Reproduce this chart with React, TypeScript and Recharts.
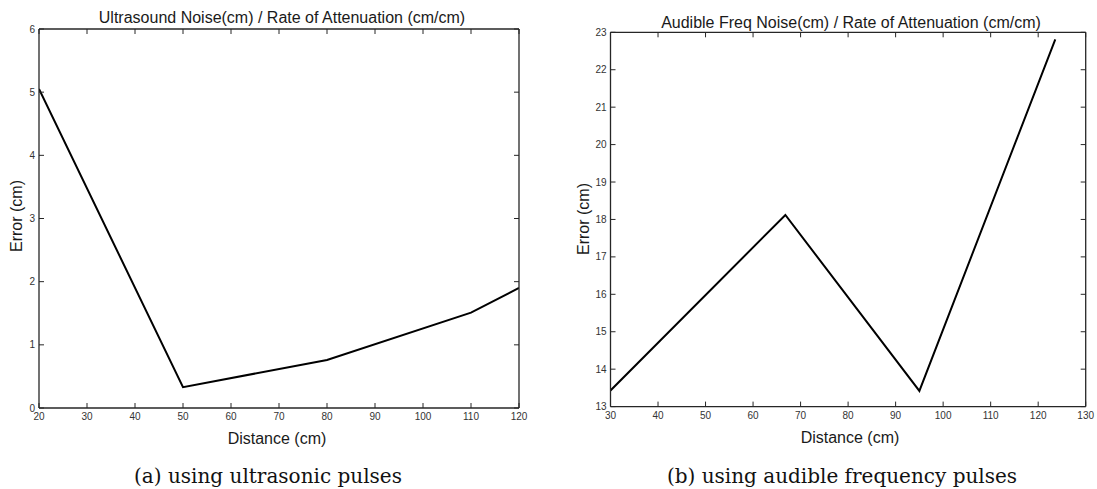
import React from "react";
import { LineChart, Line, XAxis, YAxis } from "recharts";

const ultraDistance = [20, 50, 80, 110, 120];
const ultraError = [5.05, 0.33, 0.76, 1.51, 1.9];
const ultraXTicks = [20, 30, 40, 50, 60, 70, 80, 90, 100, 110, 120];
const ultraYTicks = [0, 1, 2, 3, 4, 5, 6];

const audibleDistance = [30, 66.8, 95, 123.6];
const audibleError = [13.43, 18.12, 13.42, 22.81];
const audibleXTicks = [30, 40, 50, 60, 70, 80, 90, 100, 110, 120, 130];
const audibleYTicks = [13, 14, 15, 16, 17, 18, 19, 20, 21, 22, 23];

const ultraData = ultraDistance.map((x, i) => ({ x, y: ultraError[i] }));
const audibleData = audibleDistance.map((x, i) => ({ x, y: audibleError[i] }));

const SANS = "'Liberation Sans', Arial, sans-serif";
const AXIS_COLOR = "#262626";
const TICK_TEXT = { fontSize: 10, fill: "#333", fontFamily: SANS };

type PanelProps = {
  data: { x: number; y: number }[];
  xTicks: number[];
  yTicks: number[];
  width: number;
  yAxisWidth: number;
  marginTop: number;
  marginRight: number;
  xAxisHeight: number;
};

function Panel({ data, xTicks, yTicks, width, yAxisWidth, marginTop, marginRight, xAxisHeight }: PanelProps) {
  const xDomain: [number, number] = [xTicks[0], xTicks[xTicks.length - 1]];
  const yDomain: [number, number] = [yTicks[0], yTicks[yTicks.length - 1]];
  return (
    <LineChart
      width={width}
      height={489}
      data={data}
      margin={{ top: marginTop, right: marginRight, left: 0, bottom: 0 }}
    >
      <XAxis
        xAxisId="b"
        dataKey="x"
        type="number"
        domain={xDomain}
        ticks={xTicks}
        allowDataOverflow
        height={xAxisHeight}
        tickSize={-5}
        tickMargin={10}
        tick={TICK_TEXT}
        axisLine={{ stroke: AXIS_COLOR, strokeWidth: 1.3 }}
        tickLine={{ stroke: AXIS_COLOR }}
        interval={0}
      />
      <XAxis
        xAxisId="t"
        orientation="top"
        mirror
        dataKey="x"
        type="number"
        domain={xDomain}
        ticks={xTicks}
        allowDataOverflow
        tickSize={5}
        tickFormatter={() => ""}
        axisLine={{ stroke: AXIS_COLOR, strokeWidth: 1.3 }}
        tickLine={{ stroke: AXIS_COLOR }}
        interval={0}
      />
      <YAxis
        yAxisId="l"
        type="number"
        domain={yDomain}
        ticks={yTicks}
        allowDataOverflow
        width={yAxisWidth}
        tickSize={-5}
        tickMargin={9}
        tick={TICK_TEXT}
        axisLine={{ stroke: AXIS_COLOR, strokeWidth: 1.3 }}
        tickLine={{ stroke: AXIS_COLOR }}
        interval={0}
      />
      <YAxis
        yAxisId="r"
        orientation="right"
        mirror
        type="number"
        domain={yDomain}
        ticks={yTicks}
        allowDataOverflow
        tickSize={5}
        tickFormatter={() => ""}
        axisLine={{ stroke: AXIS_COLOR, strokeWidth: 1.3 }}
        tickLine={{ stroke: AXIS_COLOR }}
        interval={0}
      />
      <Line
        xAxisId="b"
        yAxisId="l"
        dataKey="y"
        type="linear"
        stroke="#000"
        strokeWidth={2}
        dot={false}
        isAnimationActive={false}
      />
    </LineChart>
  );
}

export default function App() {
  return (
    <div
      style={{
        position: "absolute",
        left: 0,
        top: 0,
        width: 1097,
        height: 489,
        background: "#fff",
        overflow: "hidden",
      }}
    >
      <div style={{ position: "absolute", left: 0, top: 0 }}>
        <Panel
          data={ultraData}
          xTicks={ultraXTicks}
          yTicks={ultraYTicks}
          width={550}
          yAxisWidth={39}
          marginTop={29}
          marginRight={31}
          xAxisHeight={81}
        />
      </div>
      <div style={{ position: "absolute", left: 550, top: 0 }}>
        <Panel
          data={audibleData}
          xTicks={audibleXTicks}
          yTicks={audibleYTicks}
          width={547}
          yAxisWidth={60.5}
          marginTop={32.3}
          marginRight={11.3}
          xAxisHeight={82.4}
        />
      </div>
      <svg
        width={1097}
        height={489}
        style={{ position: "absolute", left: 0, top: 0, pointerEvents: "none" }}
      >
        <g fontFamily={SANS} fill="#1a1a1a" fontSize={16} textAnchor="middle">
          <text x={282} y={23}>Ultrasound Noise(cm) / Rate of Attenuation (cm/cm)</text>
          <text x={851} y={28}>Audible Freq Noise(cm) / Rate of Attenuation (cm/cm)</text>
          <text x={277} y={444}>Distance (cm)</text>
          <text x={850} y={443}>Distance (cm)</text>
          <text transform="translate(22 216) rotate(-90)">Error (cm)</text>
          <text transform="translate(589 219) rotate(-90)">Error (cm)</text>
        </g>
        <g fontFamily="'DejaVu Serif', serif" fill="#111" fontSize={20} textAnchor="middle">
          <text x={268} y={483}>(a) using ultrasonic pulses</text>
          <text x={842} y={483}>(b) using audible frequency pulses</text>
        </g>
      </svg>
    </div>
  );
}
